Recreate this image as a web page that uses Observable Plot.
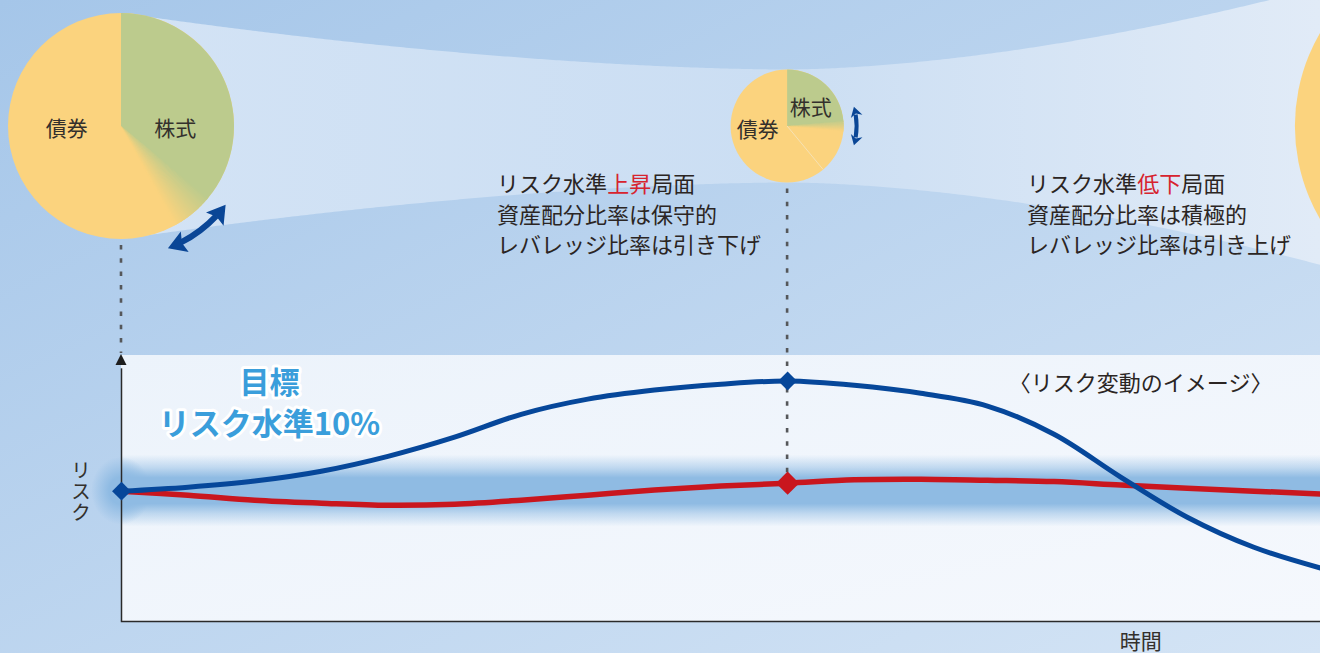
<!DOCTYPE html>
<html><head><meta charset="utf-8">
<script src="https://cdn.jsdelivr.net/npm/d3@7"></script>
<script src="https://cdn.jsdelivr.net/npm/@observablehq/plot@0.6"></script>
<style>
html,body{margin:0;padding:0;overflow:hidden;background:#bcd5ee;}
#chart svg{display:block;}
</style></head><body><div id="chart"></div>
<script>
// ---------------- data ----------------
const timeSteps   = [0,1,2,3,4,5,6,7,8,9,10,11,12,13,14,15,16,17,18];
const fixedRisk   = [10.00,10.15,10.38,10.75,11.31,12.03,12.89,13.46,13.80,14.02,14.14,13.98,13.68,13.20,12.14,10.53,9.02,7.89,7.11];
const managedRisk = [10.00,9.85,9.66,9.55,9.47,9.51,9.66,9.85,10.04,10.19,10.30,10.43,10.45,10.41,10.36,10.23,10.11,10.00,9.89];
const targetRisk = 10;
const targetBand = 1.35;
const markerTimes = [0, 10];
const pieTimes   = [0, 10, 20.4];
const stockShare = [39, 25, 55];
const leverage   = [1, 0.25, 2.68];
const assetNames = ["債券", "株式"];
const phaseTitles = [["リスク水準", "上昇", "局面"], ["リスク水準", "低下", "局面"]];
const phaseLines  = [["資産配分比率は保守的", "レバレッジ比率は引き下げ"], ["資産配分比率は積極的", "レバレッジ比率は引き上げ"]];
const goalTitle = "目標";
const goalText = "リスク水準10%";
const yLabel = "リスク";
const xLabel = "時間";
const noteText = "〈リスク変動のイメージ〉";

// ---------------- styles / layout ----------------
const FONT = '"Noto Sans CJK JP", "Noto Sans", sans-serif';
const BLUE = "#06479a", RED = "#c9161e", ARROW = "#0a4696";
const BOND = "#fbd37e", STOCK = "#bccb8d", INK = "#2b2523";
const pieCenterY = 126, pieBaseR = 113;
const labelOffsets = [[[-0.48, 0.01], [0.48, 0.01]], [[-0.52, 0.03], [0.42, -0.36]]];
const arrowSpec = [{angle: 143, gap: 18, shaft: 6, L: 18, Wd: 22}, {angle: 90, gap: 13, shaft: 4, L: 10, Wd: 12}];
const blockOffsets = [-290, 240];
const blockLineY = [182, 213, 243];

const fixedData = timeSteps.map((t, i) => ({t, v: fixedRisk[i]}));
const managedData = timeSteps.map((t, i) => ({t, v: managedRisk[i]}));

function scenery(index, scales, values, dims) {
  const {x, y} = scales;
  const W = dims.width, H = dims.height;
  const top = dims.marginTop, bottom = H - dims.marginBottom, left = x(0);
  const g = d3.create("svg:g");
  const defs = g.append("defs");
  function linear(id, c, stops, user) {
    const el = defs.append("linearGradient").attr("id", id)
      .attr("x1", c[0]).attr("y1", c[1]).attr("x2", c[2]).attr("y2", c[3]);
    if (user) el.attr("gradientUnits", "userSpaceOnUse");
    for (const [o, col, op = 1] of stops) el.append("stop").attr("offset", o).attr("stop-color", col).attr("stop-opacity", op);
  }
  linear("bgG", [0, 0, 1, 1], [[0, "#a5c6e9"], [1, "#d4e4f5"]]);
  const cxs = pieTimes.map(t => x(t));
  const rs = leverage.map(l => pieBaseR * Math.sqrt(l));
  linear("funG", [cxs[0], 0, W, 0], [[0, "#d3e3f5"], [0.55, "#cbdef3"], [1, "#e1ebf7"]], true);
  linear("panG", [0, 0, 1, 1], [[0, "#ecf3fb"], [1, "#f5f8fd"]]);
  linear("bandG", [0, 0, 0, 1], [[0, "#8fbbe3", 0], [0.18, "#8fbbe3", 0.5], [0.32, "#8fbbe3", 1], [0.68, "#8fbbe3", 1], [0.82, "#8fbbe3", 0.5], [1, "#8fbbe3", 0]]);
  const rg = defs.append("radialGradient").attr("id", "glowG");
  rg.append("stop").attr("offset", 0.4).attr("stop-color", "#8fbbe3").attr("stop-opacity", 1);
  rg.append("stop").attr("offset", 1).attr("stop-color", "#8fbbe3").attr("stop-opacity", 0);

  // background
  g.append("rect").attr("width", W).attr("height", H).attr("fill", "url(#bgG)");

  // funnel
  const pts = [];
  for (let px = cxs[0]; px <= W + 4; px += 3) {
    const i = px < cxs[1] ? 0 : 1;
    const u = (px - cxs[i]) / (cxs[i + 1] - cxs[i]);
    const r0 = rs[i], r1 = rs[i + 1];
    const s = r1 < r0 ? 1 - Math.pow(1 - u, 1.7) : Math.pow(u, 1.7);
    pts.push([px, r0 + (r1 - r0) * s]);
  }
  g.append("path").attr("d", d3.area().x(d => d[0]).y0(d => pieCenterY - d[1]).y1(d => pieCenterY + d[1])(pts))
    .attr("fill", "url(#funG)");

  // pies
  const arc = d3.arc();
  const mix = d3.interpolateRgb(STOCK, BOND);
  pieTimes.forEach((t, i) => {
    const cx = cxs[i], cy = pieCenterY, r = rs[i];
    const pg = g.append("g").attr("transform", `translate(${cx},${cy})`);
    pg.append("circle").attr("r", r).attr("fill", BOND);
    const a = stockShare[i] / 100 * 2 * Math.PI;
    const blend = Math.min(0.2, r * 0.0017);
    pg.append("path").attr("fill", STOCK)
      .attr("d", arc({innerRadius: 0, outerRadius: r, startAngle: 0, endAngle: a - blend + 0.01}));
    const N = 28;
    for (let k = 0; k < N; k++) {
      const s0 = a - blend + 2 * blend * k / N;
      pg.append("path").attr("fill", mix((k + 0.5) / N))
        .attr("d", arc({innerRadius: 0, outerRadius: r, startAngle: s0, endAngle: s0 + 2 * blend / N + 0.006}));
    }
    if (i === 1) {
      const pa = stockShare[0] / 100 * 2 * Math.PI;
      pg.append("line").attr("x2", r * Math.sin(pa)).attr("y2", -r * Math.cos(pa))
        .attr("stroke", "#f6e2b4").attr("stroke-width", 1);
    }
    if (labelOffsets[i]) {
      assetNames.forEach((name, j) => {
        pg.append("text").attr("x", labelOffsets[i][j][0] * r).attr("y", labelOffsets[i][j][1] * r)
          .attr("text-anchor", "middle").attr("dominant-baseline", "central")
          .attr("font-family", FONT).attr("font-size", 21).attr("fill", "#33302c").text(name);
      });
    }
    const sp = arrowSpec[i];
    if (sp) {
      const R = r + sp.gap, thC = sp.angle * Math.PI / 180, half = 16 * Math.PI / 180;
      const P = th => [cx + R * Math.sin(th), cy - R * Math.cos(th)];
      const a0 = thC - half, a1 = thC + half, dA = sp.L / R * 0.8;
      const s0 = P(a0 + dA), s1 = P(a1 - dA);
      g.append("path").attr("d", `M${s0}A${R},${R} 0 0 1 ${s1}`).attr("fill", "none")
        .attr("stroke", ARROW).attr("stroke-width", sp.shaft);
      for (const [aa, sign] of [[a1, 1], [a0, -1]]) {
        const tip = P(aa), tv = [Math.cos(aa) * sign, Math.sin(aa) * sign];
        const base = [tip[0] - tv[0] * sp.L, tip[1] - tv[1] * sp.L], n = [-tv[1], tv[0]];
        g.append("path").attr("fill", ARROW).attr("d",
          `M${tip}L${base[0] + n[0] * sp.Wd / 2},${base[1] + n[1] * sp.Wd / 2}L${base[0] + tv[0] * 3},${base[1] + tv[1] * 3}L${base[0] - n[0] * sp.Wd / 2},${base[1] - n[1] * sp.Wd / 2}Z`);
      }
    }
  });

  // phase texts
  const tg = g.append("g").attr("font-family", FONT).attr("font-size", 22).attr("fill", INK).attr("text-anchor", "start");
  phaseTitles.forEach((parts, k) => {
    const x0 = cxs[1] + blockOffsets[k];
    const tt = tg.append("text").attr("x", x0).attr("y", blockLineY[0]).attr("text-anchor", "start").attr("dominant-baseline", "central");
    parts.forEach((p, j) => { const s = tt.append("tspan").text(p); if (j === 1) s.attr("fill", "#d7232e"); });
    phaseLines[k].forEach((line, j) => tg.append("text").attr("x", x0).attr("y", blockLineY[j + 1])
      .attr("text-anchor", "start").attr("dominant-baseline", "central").text(line));
  });

  // vertical axis label
  g.append("text").attr("x", left - 40).attr("y", y(targetRisk) + 1)
    .attr("writing-mode", "vertical-rl").style("writing-mode", "vertical-rl")
    .attr("text-anchor", "middle").attr("font-family", FONT).attr("font-size", 20)
    .attr("letter-spacing", 1).attr("fill", "#33302c").text(yLabel);

  // panel
  g.append("rect").attr("x", left).attr("y", top).attr("width", W - left).attr("height", bottom - top).attr("fill", "url(#panG)");
  // target band
  const b0 = y(targetRisk + targetBand), b1 = y(targetRisk - targetBand);
  g.append("ellipse").attr("cx", left).attr("cy", y(targetRisk)).attr("rx", 30).attr("ry", 34).attr("fill", "url(#glowG)");
  g.append("rect").attr("x", left).attr("y", b0).attr("width", W - left).attr("height", b1 - b0).attr("fill", "url(#bandG)");

  // dashed connectors
  const dash = {stroke: "#55575a", "stroke-width": 2.6, "stroke-dasharray": "4.5,8.8"};
  const l1 = g.append("line").attr("x1", cxs[0]).attr("x2", cxs[0]).attr("y1", pieCenterY + rs[0] + 6).attr("y2", top - 2);
  const i10 = timeSteps.indexOf(markerTimes[1]);
  const l2 = g.append("line").attr("x1", cxs[1]).attr("x2", cxs[1]).attr("y1", pieCenterY + rs[1] + 6).attr("y2", y(managedRisk[i10]));
  for (const l of [l1, l2]) for (const k in dash) l.attr(k, dash[k]);

  // axis arrowhead
  g.append("path").attr("d", `M${left},${top - 1}L${left - 5.5},${top + 10}L${left + 5.5},${top + 10}Z`).attr("fill", "#1e1e1e");
  return g.node();
}

const chart = Plot.plot({
  width: 1320, height: 653,
  marginLeft: 121, marginRight: 0, marginTop: 355, marginBottom: 32,
  x: {domain: [0, 18], axis: null},
  y: {domain: [5.1, 15.1], axis: null},
  style: {background: "none", overflow: "visible", fontFamily: FONT},
  marks: [
    scenery,
    Plot.frame({anchor: "bottom", stroke: "#2a2a2a", strokeWidth: 1.5}),
    Plot.ruleX([0], {y1: 5.1, y2: 14.6, stroke: "#2a2a2a", strokeWidth: 1.5}),
    Plot.line(managedData, {x: "t", y: "v", stroke: RED, strokeWidth: 5.5, curve: "catmull-rom"}),
    Plot.line(fixedData, {x: "t", y: "v", stroke: BLUE, strokeWidth: 5, curve: "catmull-rom"}),
    Plot.dot(managedData.filter(d => d.t === markerTimes[1]), {x: "t", y: "v", symbol: "diamond2", r: 10.5, fill: RED}),
    Plot.dot(fixedData.filter(d => markerTimes.includes(d.t)), {x: "t", y: "v", symbol: "diamond2", r: 8.5, fill: BLUE}),
    Plot.text([xLabel], {x: 15.3, frameAnchor: "bottom", dy: 21, lineAnchor: "middle", fontSize: 21, fill: "#33302c", fontFamily: FONT}),
    Plot.text([noteText], {x: 15.3, frameAnchor: "top", dy: 28, lineAnchor: "middle", fontSize: 22, fill: INK, fontFamily: FONT}),
    Plot.text([goalTitle], {x: 2.22, y: 14.06, fontSize: 30, fontWeight: "bold", fill: "#3a9edb", stroke: "white", strokeWidth: 6, paintOrder: "stroke", fontFamily: FONT}),
    Plot.text([goalText], {x: 2.22, y: 12.48, fontSize: 31, fontWeight: "bold", fill: "#3a9edb", stroke: "white", strokeWidth: 6, paintOrder: "stroke", fontFamily: FONT})
  ]
});
document.getElementById("chart").append(chart);
</script>
</body></html>
